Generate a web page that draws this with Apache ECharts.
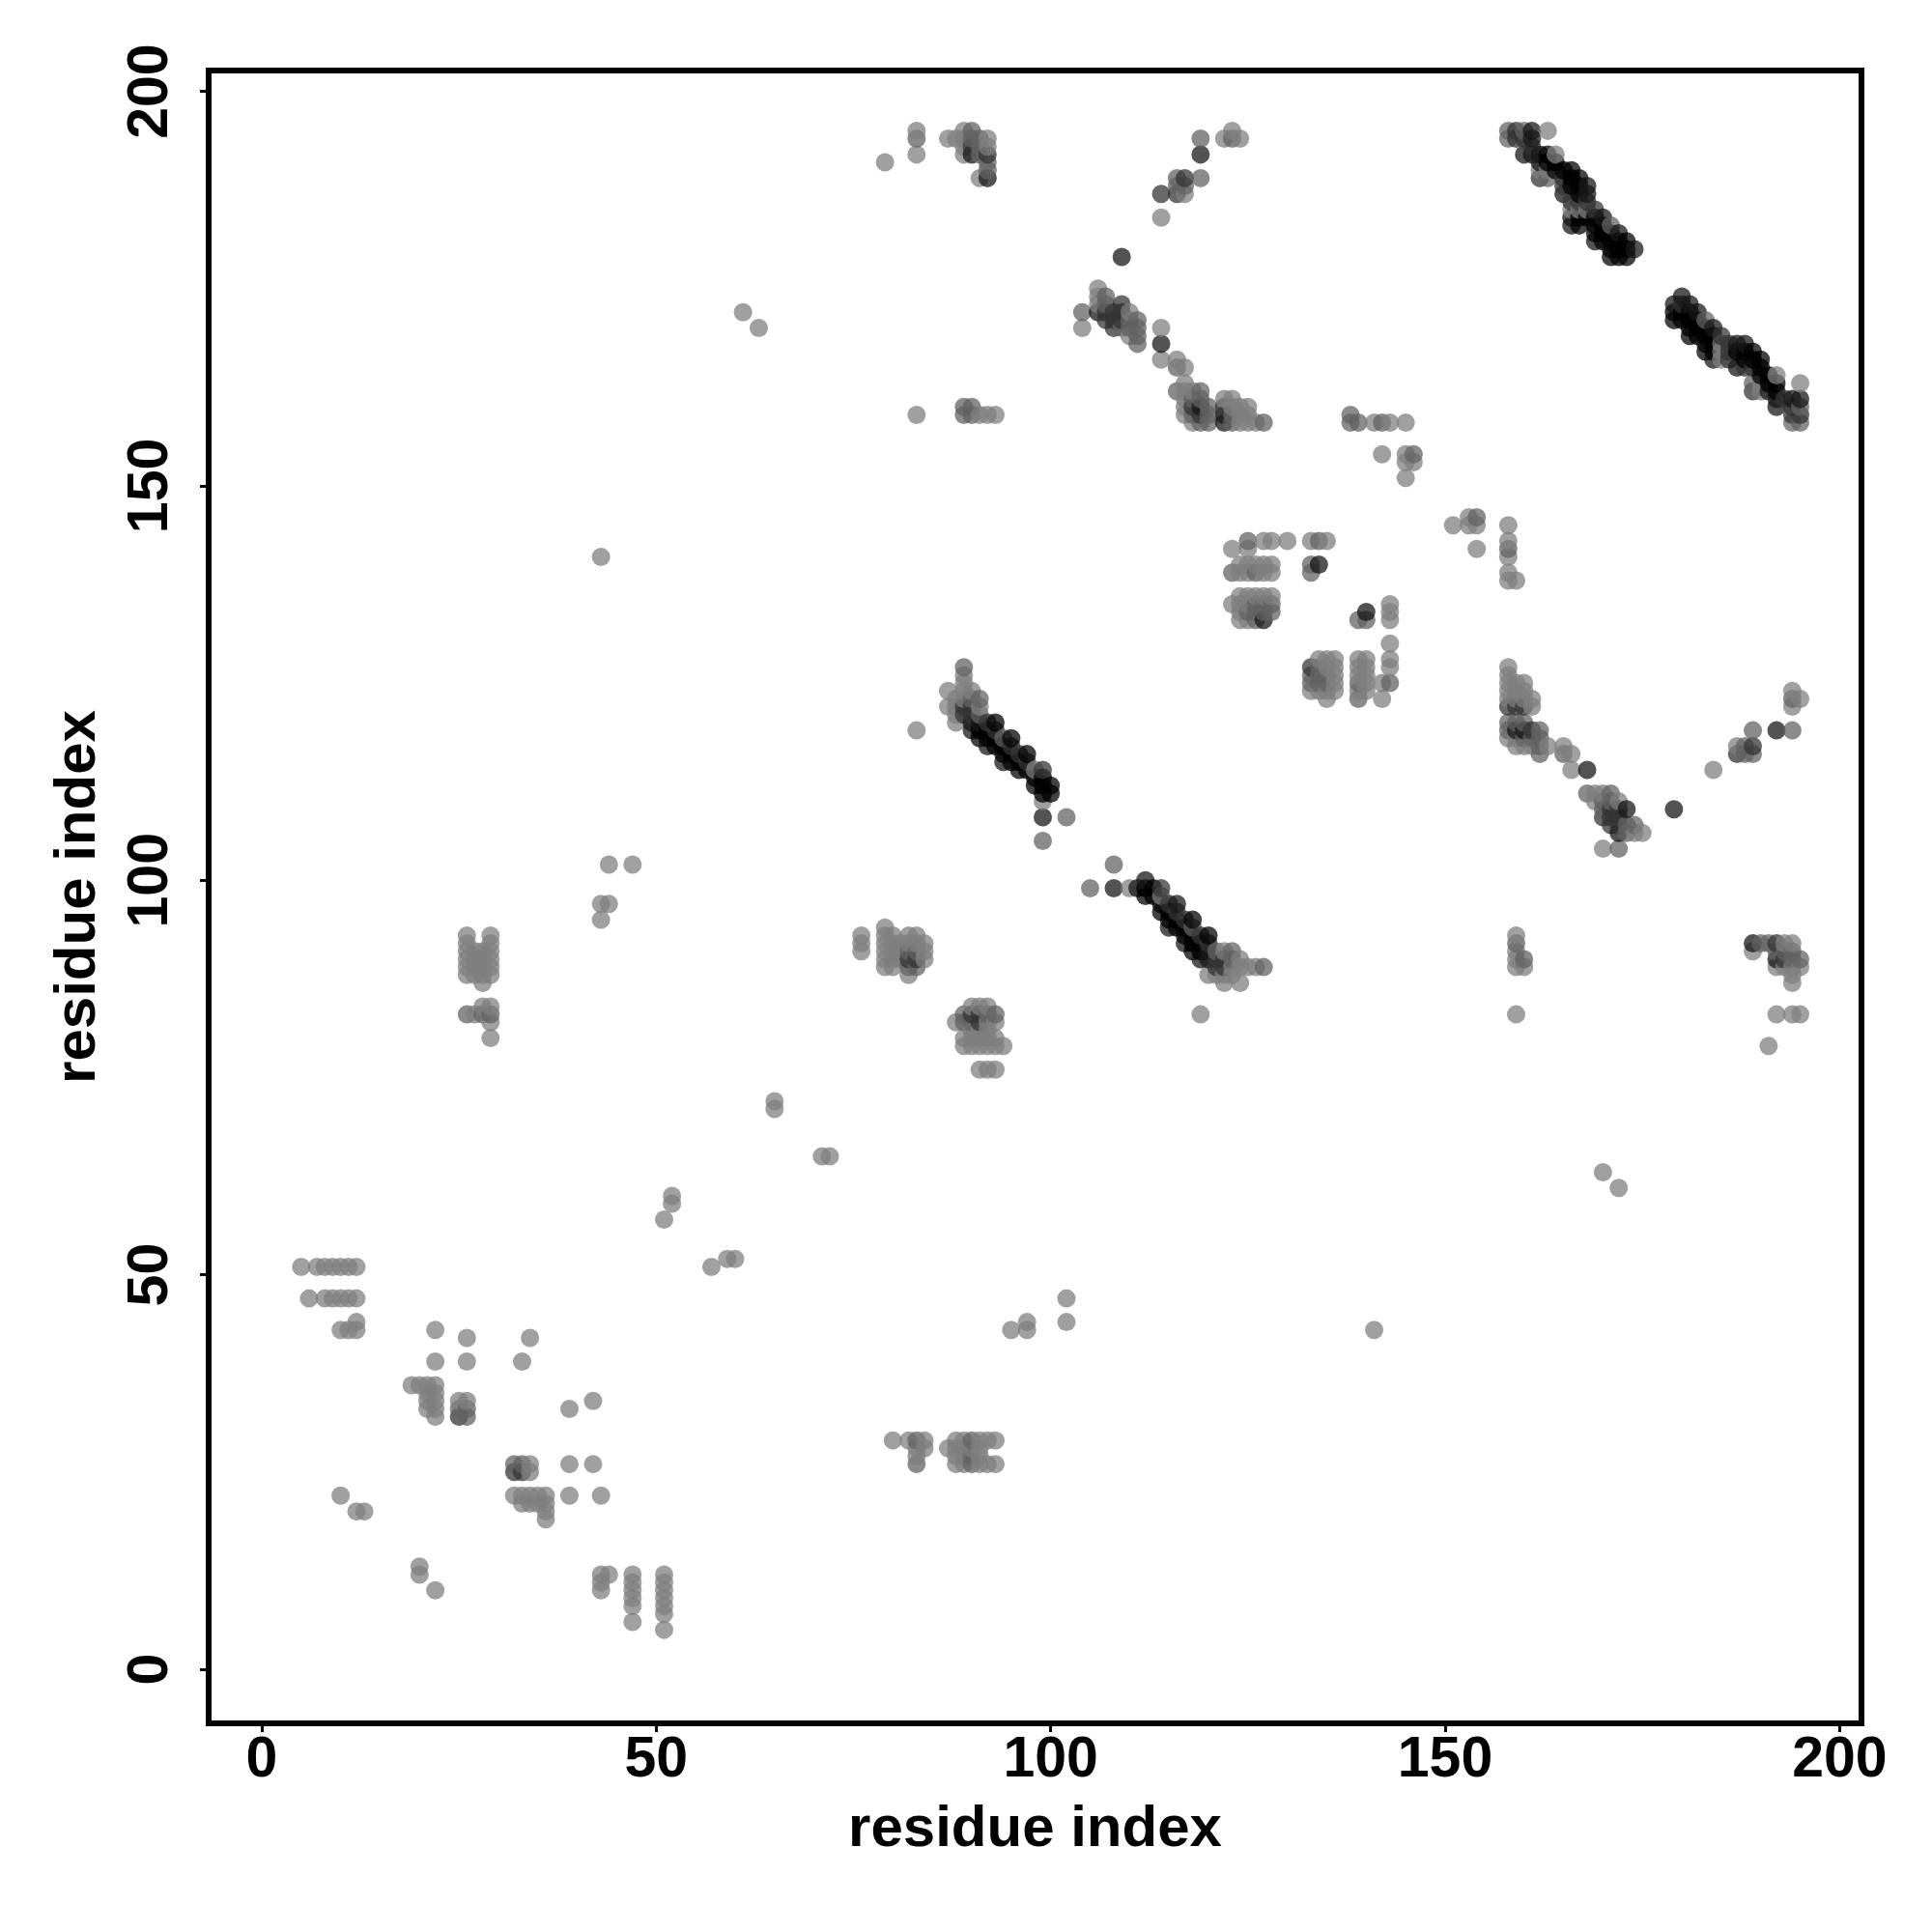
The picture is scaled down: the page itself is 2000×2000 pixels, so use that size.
<!DOCTYPE html>
<html>
<head>
<meta charset="utf-8">
<style>html,body{margin:0;padding:0;background:#fff}#chart{width:2000px;height:2000px}</style>
<script src="https://cdn.jsdelivr.net/npm/echarts@6/dist/echarts.min.js"></script>
</head>
<body>
<div id="chart"></div>
<script>
const tickValues = [0, 50, 100, 150, 200];
const axisTitle = 'residue index';

// Each row: [x residue, y residues...], by how dark the dot is.
const lightContacts = [[5,51],[6,47],[7,51],[8,51,47],[9,51,47],[10,51,47,43,22],[11,51,47,43],[12,51,47,44,43,20],[13,20],[19,36],[20,36,13,12],[21,36,35,34,33],[22,43,39,36,35,34,33,32,10],[25,34],[26,93,92,91,90,89,88,42,39,34],[27,91,90,89,88,83],[28,91,90,89,88,87,84],[29,93,92,91,90,89,88,84,82,80],[32,22],[33,39,22,21],[34,42,26,25,22,21],[35,22,21],[36,22,21,20,19],[39,33,26,22],[42,34,26],[43,141,97,95,22,12,11,10],[44,102,97,12],[47,102,12,11,10,9,8,6],[51,57,12,11,10,9,8,7,5],[52,60,59],[57,51],[59,52],[60,52],[61,172],[63,170],[65,72,71],[71,65],[72,65],[76,93,92,91],[79,191,94,93,92,91,90,89],[80,93,92,91,90,89,29],[81,92,91,90],[82,93,92,88,29],[83,195,192,159,119,93,92,28,27],[84,92,91,90,29,28],[87,194,124,122,28],[88,194,123,122,121,120,82,29,28,27,26],[89,195,194,193,192,126,125,124,123,80,79,29,28,27,26],[90,124,84,81,80,79,28],[91,189,159,122,84,81,80,79,76,29,28,27,26],[92,194,193,159,84,82,81,80,79,76,29,26],[93,159,82,80,79,76,29,26],[94,79],[95,43],[97,44,43],[98,114],[99,110],[102,47,44],[104,170],[106,175,174,173],[110,172,169,99],[114,184,170,166,98],[116,166],[117,187,165,163,162,161,160,159],[118,162,158],[119,83],[120,88],[121,88],[122,194,161,91,88,87],[123,195,161,160,142,135,89,88],[124,194,160,159,158,140,139,136,135,134,133,90,89,87],[125,160,159,158,142,140,139,136,135,133,89],[126,158,140,136,89],[127,143,140,139,136],[128,143,140,139,136],[130,143],[133,143,124],[134,128,124],[135,143,128,127,124,123],[136,128,127,126,125,124],[139,128,127,126,124],[140,128,127,126,125,124],[141,158,43],[142,154,125,123],[143,158,135,134,133,130,128,127],[145,158,154,153,151],[146,153],[151,145],[153,146,145],[154,145,142],[158,145,143,141,139,138,127,126,125,124,123,118],[159,138,125,124,123,118,117,93,91,90,89,83],[160,125,124,123,117,89],[161,123,122,117],[162,190],[163,195,190,117],[164,192],[165,117],[166,185,116,114],[167,185],[168,185],[169,111,110],[170,111,104,63],[172,110,61],[174,106],[175,106],[184,114],[185,168,167,166],[187,117],[189,91],[190,163,162],[191,79],[192,164,89,83],[193,92,89],[194,124,122,92,89,88,87,83],[195,163,123,89,83]];

const midContacts = [[25,33],[26,83,33,32],[28,83],[29,83],[32,26],[33,26],[82,91,89],[83,194,91,89,29,26],[89,160,159,127,83,82],[90,195,194,160,159,123,82,29,27,26],[91,194,193,192,123,121],[92,191,190,83],[93,83],[94,118],[99,105],[102,108],[104,172],[105,99],[107,174,173],[108,102],[109,170],[110,171,170],[111,171,170,169,168],[116,189,188,165,162],[117,188],[118,161,159,94],[119,194,189,162,161,158],[120,160,159,158],[121,91],[123,194,159,158,139,91,90],[125,143,134],[126,139,135,134,133],[127,158,135,134,89],[128,135,134],[133,140,139,126,125],[134,143,127,126,125],[135,126,125],[138,159,158],[139,158,133,125,123],[140,133],[142,158],[143,125],[146,154],[154,146],[158,195,194,142,120,119],[159,120,92],[160,195,120,118,90],[161,118],[162,119,118,117,116],[163,189],[165,116],[168,111],[170,110,109],[171,183,111,110],[172,104],[173,107,106],[174,107],[183,171],[188,117,116],[189,163,119,116],[190,92],[191,92],[192,91],[193,91],[194,158,123,119,91,90],[195,160,158,90]];

const darkContacts = [[25,32],[32,25],[33,25],[82,90],[83,90],[89,122,121],[90,193,122,121,83],[91,83,82],[92,192,120],[93,119],[95,117],[96,116],[97,115],[99,114],[107,172,171],[108,172,171,170],[109,173,172,171],[114,187,99],[115,97],[116,187,96],[117,189,95],[118,160],[119,159,93],[120,92],[121,90,89],[122,160,90,89],[133,127],[158,122],[159,195,194,122],[160,194,122],[161,193,119],[162,189],[165,189,188],[166,186],[167,186],[168,186],[169,185],[170,108],[171,109,108,107],[172,109,108,107],[180,173],[185,169],[186,168,167,166],[187,116],[188,165],[189,165,162,117],[192,92],[193,161,90],[194,160,159],[195,159]];

const deepContacts = [[90,192,120,119],[91,120],[92,189,117],[94,115],[99,108],[106,172],[108,99],[109,179],[111,99],[112,100],[114,168],[115,94],[116,97],[117,92],[119,192,160,90],[120,91,90],[122,159,158],[127,133],[134,140],[140,134],[159,119],[160,192,119],[161,195,194,192],[162,192,191],[165,187],[166,184,183],[168,188,187,114],[169,181],[170,184],[172,182,106],[173,109],[174,180],[179,173,109],[180,174],[181,173],[182,172],[184,170,166],[187,168,165],[188,168],[189,92],[191,162],[192,161,160,119,90],[194,161],[195,161]];

const blackContacts = [[91,119,118],[92,119,118],[93,120,118,117],[94,117,116],[95,118,116,115],[96,115,114],[97,116,114],[98,113,112],[99,113,112,111],[100,112,111],[112,99,98],[113,99,98],[114,97,96],[115,96,95],[116,95,94],[117,94,93],[118,95,93,92,91],[119,92,91],[120,93],[163,192,191],[164,191,190],[165,190],[166,190,189,188],[167,189,188,187,184,183],[168,184],[169,184,183,182],[170,183,182,181],[171,182,181,180,179],[172,181,180,179],[173,181,180,179],[179,172,171],[180,172,171],[181,172,171,170,169],[182,171,170,169],[183,170,169,168,167],[184,169,168,167],[187,167],[188,167,166],[189,167,166],[190,166,165,164],[191,164,163],[192,163,162]];

const shadeGroups = [
  { rows: lightContacts, grey: 126 },
  { rows: midContacts,   grey: 98 },
  { rows: darkContacts,  grey: 52 },
  { rows: deepContacts,  grey: 22 },
  { rows: blackContacts, grey: 0 }
];

// Paint order in the reference: by x, then by y, later dots on top.
const points = [];
shadeGroups.forEach(g => g.rows.forEach(row => {
  row.slice(1).forEach(y => points.push({ value: [row[0], y], itemStyle: { color: `rgba(${g.grey},${g.grey},${g.grey},0.92)` } }));
}));
points.sort((a, b) => a.value[0] - b.value[0] || a.value[1] - b.value[1]);

const font = '"Liberation Sans", Arial, Helvetica, sans-serif';
const chart = echarts.init(document.getElementById('chart'), null, { renderer: 'canvas' });

chart.setOption({
  animation: false,
  backgroundColor: '#ffffff',
  grid: { left: 216, top: 73, width: 1711, height: 1711, show: true, borderColor: '#000', borderWidth: 6, backgroundColor: 'transparent' },
  xAxis: {
    type: 'value', min: -6.73, max: 202.77,
    splitLine: { show: false },
    axisLine: { show: false, onZero: false },
    axisTick: { show: true, length: 9, customValues: tickValues, lineStyle: { color: '#000', width: 3 } },
    axisLabel: { customValues: tickValues, fontFamily: font, fontWeight: 'bold', fontSize: 59, color: '#000', margin: 9, hideOverlap: false, showMinLabel: true, showMaxLabel: true },
    name: axisTitle, nameLocation: 'middle', nameGap: 80,
    nameTextStyle: { fontFamily: font, fontWeight: 'bold', fontSize: 60, color: '#000' }
  },
  yAxis: {
    type: 'value', min: -6.86, max: 202.64,
    splitLine: { show: false },
    axisLine: { show: false, onZero: false },
    axisTick: { show: true, length: 9, customValues: tickValues, lineStyle: { color: '#000', width: 3 } },
    axisLabel: { customValues: tickValues, rotate: 90, fontFamily: font, fontWeight: 'bold', fontSize: 59, color: '#000', margin: 59, align: 'center', verticalAlign: 'middle', hideOverlap: false, showMinLabel: true, showMaxLabel: true },
    name: axisTitle, nameLocation: 'middle', nameGap: 105, nameRotate: 90,
    nameTextStyle: { fontFamily: font, fontWeight: 'bold', fontSize: 60, color: '#000' }
  },
  series: [{
    type: 'scatter',
    symbol: 'circle',
    symbolSize: 19,
    progressive: 0,
    large: false,
    silent: true,
    data: points
  }]
});
</script>
</body>
</html>
